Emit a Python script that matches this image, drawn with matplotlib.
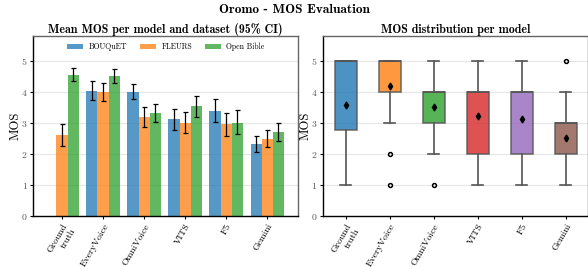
import numpy as np
import matplotlib
matplotlib.use('Agg')
import matplotlib.pyplot as plt

plt.rcParams['font.family'] = 'cmr10'
plt.rcParams['axes.formatter.use_mathtext'] = True
plt.rcParams['mathtext.fontset'] = 'cm'

# data
models = ['Ground\ntruth', 'EveryVoice', 'OmniVoice', 'VITS', 'F5', 'Gemini']
datasets = ['BOUQuET', 'FLEURS', 'Open Bible']

bouquet_mean = [np.nan, 4.02, 3.99, 3.10, 3.38, 2.31]
bouquet_lo = [np.nan, 3.72, 3.76, 2.77, 3.03, 2.06]
bouquet_hi = [np.nan, 4.35, 4.24, 3.44, 3.75, 2.57]

fleurs_mean = [2.60, 3.99, 3.18, 2.99, 2.96, 2.47]
fleurs_lo = [2.26, 3.68, 2.87, 2.66, 2.58, 2.21]
fleurs_hi = [2.95, 4.28, 3.50, 3.33, 3.32, 2.75]

bible_mean = [4.53, 4.50, 3.30, 3.54, 2.99, 2.69]
bible_lo = [4.33, 4.27, 3.02, 3.19, 2.63, 2.42]
bible_hi = [4.77, 4.74, 3.59, 3.87, 3.39, 2.98]

# box plot summary per model
box_q1 = [2.75, 4, 3, 2, 2, 2]
box_med = [5, 5, 4, 4, 4, 3]
box_q3 = [5, 5, 4, 4, 4, 3]
box_wlo = [1, 3, 2, 1, 1, 1]
box_whi = [5, 5, 5, 5, 5, 4]
box_mean = [3.57, 4.18, 3.50, 3.22, 3.12, 2.51]
box_fliers = [[], [2, 1], [1], [], [], [5]]

bar_colors = ['#1f77b4', '#ff7f0e', '#2ca02c']
box_colors = ['#1f77b4', '#ff7f0e', '#2ca02c', '#d62728', '#9467bd', '#8c564b']

fig = plt.figure(figsize=(5.88, 2.67), dpi=100)
ax1 = fig.add_axes([33.3/588, 1-215.7/267, 265/588, 180/267])
ax2 = fig.add_axes([322.7/588, 1-215.7/267, 265/588, 180/267])

fig.suptitle('Oromo - MOS Evaluation', fontsize=9.6, family='cmb10', y=0.985)

# bars
x = np.arange(len(models))
w = 0.27
means = [bouquet_mean, fleurs_mean, bible_mean]
los = [bouquet_lo, fleurs_lo, bible_lo]
his = [bouquet_hi, fleurs_hi, bible_hi]
for i in range(3):
    m = np.array(means[i])
    err = np.array([m - np.array(los[i]), np.array(his[i]) - m])
    ax1.bar(x + (i - 1) * w, m, w, color=bar_colors[i], alpha=0.75, label=datasets[i],
            yerr=err, capsize=1.8, error_kw=dict(elinewidth=0.9, capthick=0.9, ecolor='black'),
            zorder=2)

ax1.set_title('Mean MOS per model and dataset (95% CI)', fontsize=8.6, family='cmb10', pad=2)
ax1.set_xlim(-0.7, 5.76)
ax1.legend(loc='upper center', ncol=3, frameon=False, fontsize=5.6,
           handlelength=2.1, handletextpad=0.7, columnspacing=1.6,
           bbox_to_anchor=(0.5, 1.0))

# box plot
stats = []
for k in range(len(models)):
    stats.append(dict(q1=box_q1[k], med=box_med[k], q3=box_q3[k], whislo=box_wlo[k],
                      whishi=box_whi[k], mean=box_mean[k], fliers=box_fliers[k]))
bp = ax2.bxp(stats, positions=x, widths=0.5, patch_artist=True, showmeans=True,
             meanprops=dict(marker='d', markerfacecolor='black', markeredgecolor='black', markersize=3.5),
             flierprops=dict(marker='o', markerfacecolor='white', markeredgecolor='black',
                             markersize=2.8, markeredgewidth=1.1),
             medianprops=dict(color='#555555', linewidth=1.2),
             whiskerprops=dict(color='#555555', linewidth=1.2),
             capprops=dict(color='#555555', linewidth=1.2),
             boxprops=dict(edgecolor='#555555', linewidth=1.2))
for patch, c in zip(bp['boxes'], box_colors):
    patch.set_facecolor(c)
    patch.set_alpha(0.8)
    patch.set_zorder(2)
ax2.set_title('MOS distribution per model', fontsize=8.6, family='cmb10', pad=2)
ax2.set_xlim(-0.525, 5.5)

for ax in [ax1, ax2]:
    ax.set_ylim(0, 5.8)
    ax.set_yticks([0, 1, 2, 3, 4, 5])
    ax.set_ylabel('MOS', fontsize=9)
    ax.yaxis.set_label_coords(-0.043, 0.5)
    ax.set_xticks(x)
    ax.set_xticklabels(models, rotation=60, ha='right', rotation_mode='anchor', fontsize=7.0)
    ax.tick_params(axis='y', labelsize=7, labelcolor='#555555', length=2.5, pad=1.5)
    ax.tick_params(axis='x', length=2.5, pad=2.0)
    ax.grid(axis='y', color='#e6e6e6', linewidth=0.8, zorder=0)
    ax.set_axisbelow(True)
    ax.spines['left'].set_color('black')
    ax.spines['bottom'].set_color('black')
    ax.spines['top'].set_color('#666666')
    ax.spines['right'].set_color('#666666')
    for s in ax.spines.values():
        s.set_linewidth(1.0)

fig.savefig('out.png', dpi=100)
